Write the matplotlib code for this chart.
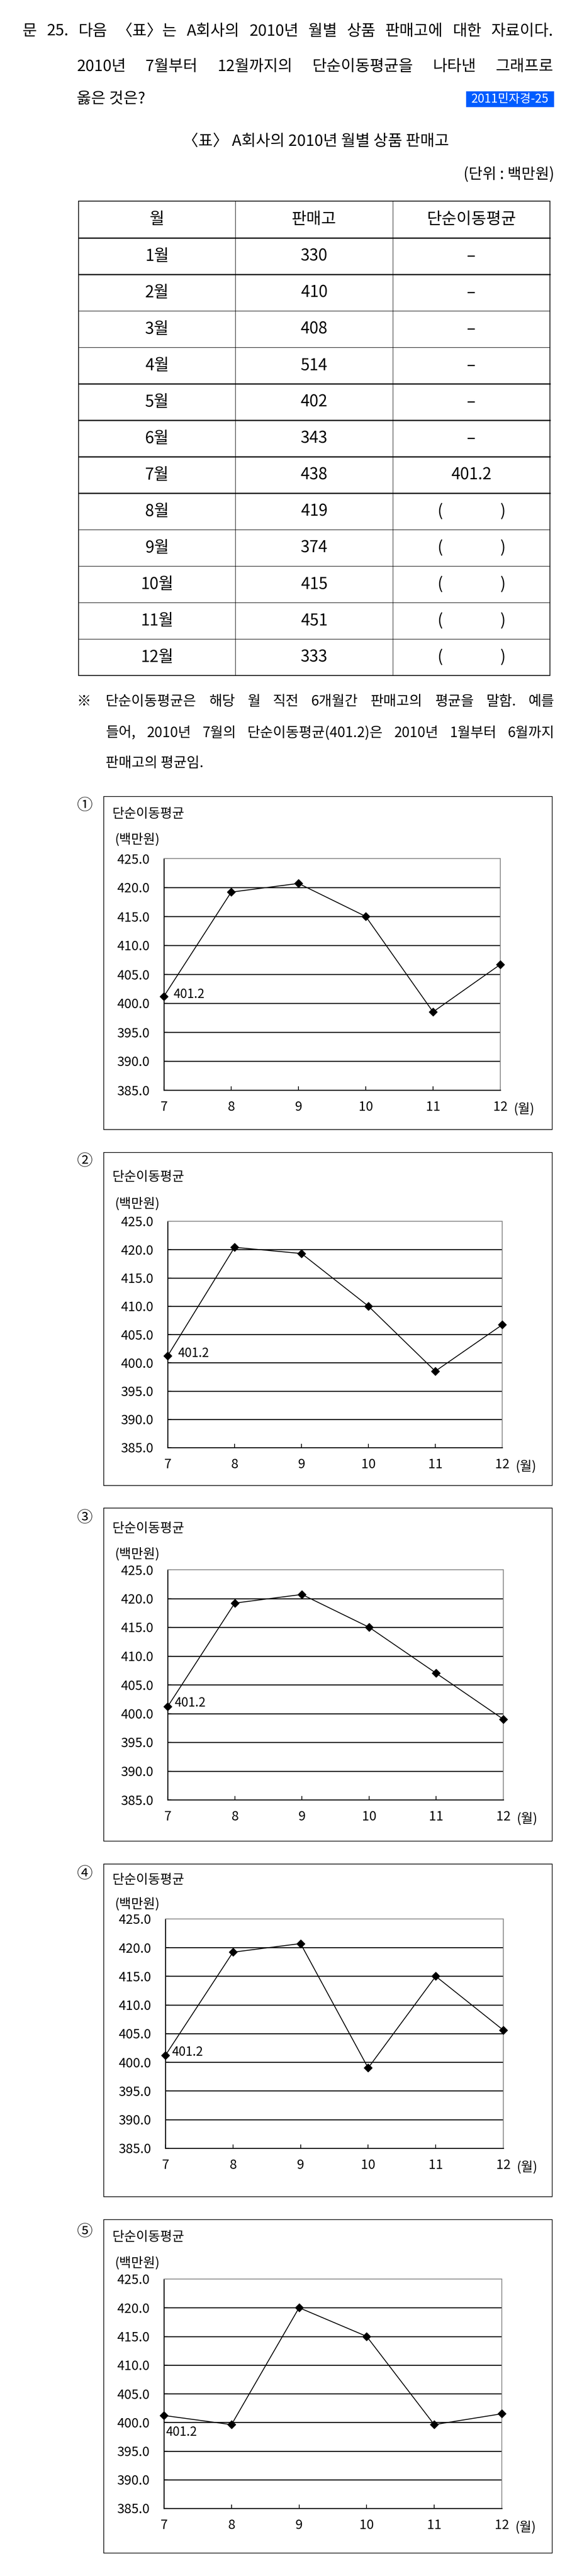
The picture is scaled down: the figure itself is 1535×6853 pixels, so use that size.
import matplotlib
matplotlib.use("Agg")
import matplotlib.pyplot as plt
from matplotlib.patches import Rectangle

plt.rcParams['font.family'] = ['Noto Sans CJK KR', 'DejaVu Sans']

# ---- 자료 ----
tbl_months = ["1월", "2월", "3월", "4월", "5월", "6월", "7월", "8월", "9월", "10월", "11월", "12월"]
sales = [330, 410, 408, 514, 402, 343, 438, 419, 374, 415, 451, 333]
ma_col = ["–", "–", "–", "–", "–", "–", "401.2", None, None, None, None, None]
tbl_head = ["월", "판매고", "단순이동평균"]

x_months = [7, 8, 9, 10, 11, 12]
opt1 = [401.2, 419.2, 420.7, 415.0, 398.5, 406.7]
opt2 = [401.2, 420.4, 419.3, 410.0, 398.5, 406.7]
opt3 = [401.2, 419.2, 420.7, 415.0, 407.0, 399.0]
opt4 = [401.2, 419.2, 420.7, 399.0, 415.0, 405.6]
opt5 = [401.2, 399.6, 420.0, 415.0, 399.6, 401.5]
options = [opt1, opt2, opt3, opt4, opt5]
circ = ["①", "②", "③", "④", "⑤"]
yticks = [385, 390, 395, 400, 405, 410, 415, 420, 425]

W, H = 1535, 6853
fig = plt.figure(figsize=(W / 100, H / 100), dpi=100)
ov = fig.add_axes([0, 0, 1, 1])
ov.set_xlim(0, W)
ov.set_ylim(H, 0)
ov.axis("off")
rend = fig.canvas.get_renderer()


def justify(words, x0, x1, y, size):
    # 양쪽 정렬
    ts = [ov.text(0, y, w, fontsize=size, va="center", ha="left") for w in words]
    ws = [t.get_window_extent(rend).width for t in ts]
    gap = (x1 - x0 - sum(ws)) / (len(ws) - 1)
    x = x0
    for t, w in zip(ts, ws):
        t.set_x(x)
        x += w + gap


# ---- 문제 ----
justify(["문", "25.", "다음", "〈표〉는", "A회사의", "2010년", "월별", "상품", "판매고에", "대한", "자료이다."],
        60, 1472, 83, 30)
justify(["2010년", "7월부터", "12월까지의", "단순이동평균을", "나타낸", "그래프로"], 204, 1472, 177, 30)
ov.text(204, 263, "옳은 것은?", fontsize=30, va="center", ha="left")
ov.add_patch(Rectangle((1240, 243), 234, 42, color="#005cff", lw=0))
ov.text(1357, 264, "2011민자경-25", fontsize=23, color="white", va="center", ha="center")

ov.text(840, 376, "〈표〉 A회사의 2010년 월별 상품 판매고", fontsize=30, va="center", ha="center")
ov.text(1475, 464, "(단위 : 백만원)", fontsize=29, va="center", ha="right")

# ---- 표 ----
cols = [209, 626, 1045, 1463]
top, hh, rh = 535, 98, 97
rows_y = [top, top + hh] + [top + hh + rh * (i + 1) for i in range(12)]
thick = {1, 2, 5, 6, 7, 8}
for i, yy in enumerate(rows_y):
    lw = 2.4 if i in thick else (1.6 if i in (0, 13) else 1.0)
    ov.plot([cols[0], cols[-1]], [yy, yy], color="black", lw=lw)
for j, xx in enumerate(cols):
    ov.plot([xx, xx], [rows_y[0], rows_y[-1]], color="black", lw=1.4 if j in (0, 3) else 0.9)
cx = [(cols[k] + cols[k + 1]) / 2 for k in range(3)]
for k in range(3):
    ov.text(cx[k], top + hh / 2, tbl_head[k], fontsize=31, va="center", ha="center")
for i in range(12):
    yc = rows_y[i + 1] + rh / 2
    ov.text(cx[0], yc, tbl_months[i], fontsize=31, va="center", ha="center")
    ov.text(cx[1], yc, str(sales[i]), fontsize=31, va="center", ha="center")
    if ma_col[i] is None:
        ov.text(cx[2] - 83, yc, "(", fontsize=31, va="center", ha="center")
        ov.text(cx[2] + 83, yc, ")", fontsize=31, va="center", ha="center")
    else:
        ov.text(cx[2], yc, ma_col[i], fontsize=31, va="center", ha="center")

# ---- 주석 ----
ov.text(224, 1866, "※", fontsize=27, va="center", ha="center")
justify(["단순이동평균은", "해당", "월", "직전", "6개월간", "판매고의", "평균을", "말함.", "예를"],
        281, 1475, 1866, 27)
justify(["들어,", "2010년", "7월의", "단순이동평균(401.2)은", "2010년", "1월부터", "6월까지"],
        281, 1475, 1950, 27)
ov.text(281, 2030, "판매고의 평균임.", fontsize=27, va="center", ha="left")

# ---- 보기 그래프 ----
# box top, box bottom, plot l, r, t, b, title y, unit y, circle y, label offset
lay = [
    (2119, 3005, 436, 1331, 2284, 2900, 2165, 2233, 2143, (25, 5)),
    (3066, 3952, 446, 1336, 3249, 3851, 3131, 3202, 3089, (27, 7)),
    (4012, 4898, 446, 1339, 4176, 4788, 4066, 4134, 4038, (18, 10)),
    (4959, 5844, 440, 1339, 5105, 5715, 5002, 5065, 4985, (17, 8)),
    (5905, 6792, 436, 1335, 6063, 6673, 5952, 6020, 5937, (5, -45)),
]
for n, (bt, bb, pl, pr, pt, pb, ty, uy, cy, off) in enumerate(lay):
    ov.add_patch(Rectangle((276, bt), 1469 - 276, bb - bt, fill=False, ec="black", lw=1.3))
    ov.text(225, cy, circ[n], fontsize=30, va="center", ha="center")
    ov.text(299, ty, "단순이동평균", fontsize=25, va="center", ha="left")
    ov.text(306, uy, "(백만원)", fontsize=25, va="center", ha="left")
    ov.text(pr + 36, pb + 52, "(월)", fontsize=25, va="center", ha="left")

    ax = fig.add_axes([pl / W, 1 - pb / H, (pr - pl) / W, (pb - pt) / H])
    ax.set_xlim(7, 12)
    ax.set_ylim(385, 425)
    ax.set_yticks(yticks)
    ax.set_yticklabels([f"{v:.1f}" for v in yticks])
    ax.set_xticks(x_months)
    ax.set_xticklabels([str(m) for m in x_months])
    ax.yaxis.grid(True, color="black", lw=1.9)
    gl = ax.get_ygridlines()
    gl[0].set_visible(False)
    gl[-1].set_visible(False)
    ax.set_axisbelow(True)
    for s in ("left", "bottom"):
        ax.spines[s].set_color("black")
        ax.spines[s].set_linewidth(1.9)
    for s in ("top", "right"):
        ax.spines[s].set_color("#808080")
        ax.spines[s].set_linewidth(1.5)
    ax.tick_params(direction="in", length=7, width=1.5, labelsize=25, colors="black")
    ax.tick_params(axis="y", pad=27)
    ax.tick_params(axis="x", pad=20)
    vals = options[n]
    ax.plot(x_months, vals, color="black", lw=1.7, marker="D", ms=11, clip_on=False, zorder=5)
    ax.annotate("401.2", (x_months[0], vals[0]), xytext=off, textcoords="offset pixels",
                fontsize=24, va="center", ha="left")

fig.savefig("out.png", dpi=100)
